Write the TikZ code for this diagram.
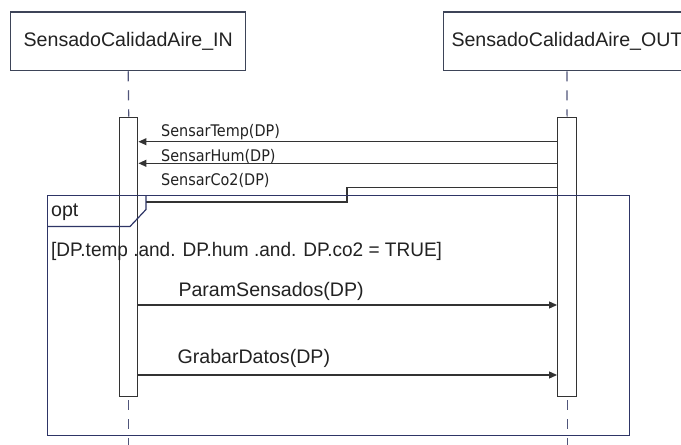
\documentclass[tikz,border=0pt]{standalone}
\usepackage{fontspec}
\setmainfont{Liberation Sans}
\newfontfamily\msgfont[FakeStretch=0.9]{DejaVu Sans}
\newfontfamily\guardfont[FakeStretch=0.97]{Liberation Sans}
\usetikzlibrary{arrows.meta}
\definecolor{hdredge}{HTML}{3D4458}
\definecolor{lifecol}{HTML}{50557A}
\definecolor{framecol}{HTML}{2E3566}
\definecolor{actcol}{HTML}{333333}
\definecolor{txtcol}{HTML}{222222}
\tikzset{
  hdr/.style={draw=hdredge, line width=1.1pt, fill=white, rectangle, inner sep=0pt,
    font=\fontsize{19.6}{22}\selectfont, text=txtcol},
  actbox/.style={draw=actcol, line width=1.3pt, fill=white, rectangle, inner sep=0pt},
  lifeline/.style={draw=lifecol, line width=1.2pt, dash pattern=on 10pt off 9pt},
  msgline/.style={draw=actcol, line width=1.1pt, -{Triangle[length=8pt,width=7pt]}},
  plainline/.style={draw=actcol, line width=1.1pt},
  framebox/.style={draw=framecol, line width=1.2pt},
  bigtxt/.style={anchor=base west, inner sep=0pt, font=\fontsize{19.6}{22}\selectfont, text=txtcol},
  smalltxt/.style={anchor=base west, inner sep=0pt, font=\msgfont\fontsize{16}{18}\selectfont, text=txtcol},
}
\begin{document}
\begin{tikzpicture}[x=1pt, y=-1pt]
\useasboundingbox (0,0) rectangle (681,445);
\clip (0,0) rectangle (681,445);
\fill[white] (0,0) rectangle (681,445);

% headers
\node[hdr, minimum width=234.7pt, minimum height=58.7pt] (h1) at (128.25,41.35) {SensadoCalidadAire\_IN};
\node[hdr, minimum width=247pt, minimum height=58.7pt] (h2) at (567,41.35) {SensadoCalidadAire\_OUT};

% activations
\node[actbox, minimum width=18.2pt, minimum height=279.4pt] (a1) at (128.7,257) {};
\node[actbox, minimum width=18.8pt, minimum height=279.4pt] (a2) at (567.1,257) {};

% lifelines
\coordinate (b1) at (128.7,445);
\coordinate (b2) at (567.1,445);
\draw[lifeline, dash phase=0pt] (h1.south) -- (a1.north);
\draw[lifeline, dash phase=0pt] (h2.south) -- (a2.north);
\draw[lifeline] (a1.south) ++(0,3) -- (b1);
\draw[lifeline] (a2.south) ++(0,3) -- (b2);

% messages out->in
\coordinate (m1) at (0,141.7);
\coordinate (m2) at (0,163.3);
\coordinate (m3) at (0,187.3);
\coordinate (k1) at (347,187.3);
\coordinate (k2) at (347,202);
\coordinate (k3) at (146,202);
\draw[msgline] (a2.west |- m1) -- (a1.east |- m1);
\draw[msgline] (a2.west |- m2) -- (a1.east |- m2);
\draw[plainline] (a2.west |- m3) -- (k1) -- (k2) -- (k3);
\node[smalltxt] (t1) at (161,136.7) {SensarTemp(DP)};
\node[smalltxt] (t2) at (161,161) {SensarHum(DP)};
\node[smalltxt] (t3) at (161,185) {SensarCo2(DP)};

% opt frame
\coordinate (f1) at (47.3,195.7);
\coordinate (f2) at (629.4,435.4);
\draw[framebox] (f1) rectangle (f2);
\coordinate (g1) at (146,195.7);
\coordinate (g2) at (146,209.5);
\coordinate (g3) at (130,226.5);
\coordinate (g4) at (47.3,226.5);
\draw[framebox] (g1) -- (g2) -- (g3) -- (g4);
\node[bigtxt] (opt) at (51,216.7) {opt};
\node[bigtxt, font=\guardfont\fontsize{19.6}{22}\selectfont] (guard) at (51,256) {[DP.temp .and. DP.hum .and. DP.co2 = TRUE]};

% messages in->out
\coordinate (m4) at (0,305);
\coordinate (m5) at (0,375);
\draw[msgline] (a1.east |- m4) -- (a2.west |- m4);
\draw[msgline] (a1.east |- m5) -- (a2.west |- m5);
\node[bigtxt] (p1) at (178.3,296.7) {ParamSensados(DP)};
\node[bigtxt] (p2) at (177.4,363.3) {GrabarDatos(DP)};
\end{tikzpicture}
\end{document}
